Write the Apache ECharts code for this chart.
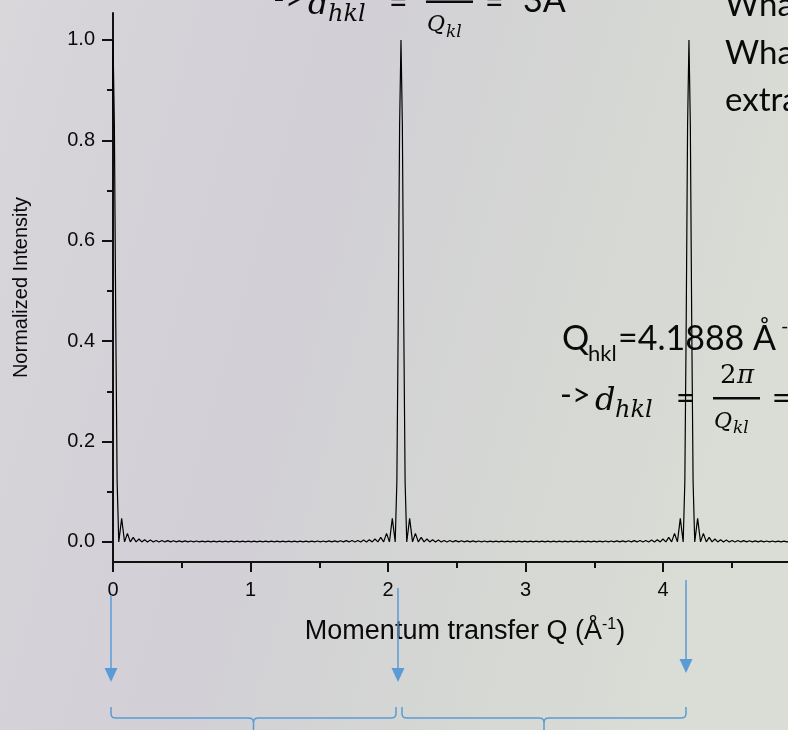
<!DOCTYPE html>
<html>
<head>
<meta charset="utf-8">
<script src="https://cdn.jsdelivr.net/npm/echarts@6/dist/echarts.min.js"></script>
<style>
  html, body { margin: 0; padding: 0; background: #d4d2d7; }
  #chart { width: 788px; height: 730px; }
</style>
</head>
<body>
<div id="chart"></div>
<script>
// Bragg peak positions, Q in 1/Å
const peakCentres = [0, 2.0944, 4.1888];

// One-sided peak profile: distance from the peak centre (1/Å) and normalized intensity
const profileOffsets = [
  0, 0.010, 0.020, 0.030, 0.042, 0.063, 0.084, 0.105, 0.126, 0.147,
  0.168, 0.189, 0.209, 0.230, 0.251, 0.272, 0.293, 0.314, 0.335, 0.356,
  0.377, 0.398, 0.419, 0.440, 0.461, 0.482, 0.503, 0.524, 0.545, 0.565,
  0.586, 0.607, 0.628, 0.649, 0.670, 0.691, 0.712, 0.733, 0.754, 0.775,
  0.796, 0.817, 0.838, 0.859, 0.880, 0.901, 0.922, 0.942, 0.963, 0.984,
  1.005, 1.026, 1.047
];
const profileValues = [
  1.0, 0.83, 0.44, 0.12, 0, 0.047, 0, 0.017, 0, 0.009,
  0, 0.0058, 0, 0.0045, 0, 0.0036, 0, 0.0030, 0, 0.0027,
  0, 0.0025, 0, 0.0023, 0, 0.0021, 0, 0.0020, 0, 0.0019,
  0, 0.0018, 0, 0.0017, 0, 0.0017, 0, 0.0016, 0, 0.0016,
  0, 0.0015, 0, 0.0015, 0, 0.0015, 0, 0.0015, 0, 0.0015,
  0, 0.0015, 0
];

// Axis ticks
const xMajorTicks = [0, 1, 2, 3, 4, 5];
const xMinorTicks = [0.5, 1.5, 2.5, 3.5, 4.5];
const yMajorTicks = [0, 0.2, 0.4, 0.6, 0.8, 1.0];
const yMinorTicks = [0.1, 0.3, 0.5, 0.7, 0.9];

// Assemble the diffraction curve: each peak profile mirrored about its centre
const curve = [];
peakCentres.forEach(function (c) {
  for (let k = profileOffsets.length - 1; k > 0; k--) {
    curve.push([c - profileOffsets[k], profileValues[k]]);
  }
  for (let k = 0; k < profileOffsets.length; k++) {
    curve.push([c + profileOffsets[k], profileValues[k]]);
  }
});

const AXIS_FONT = '"Liberation Sans", Arial, sans-serif';
const SLIDE_FONT = 'Lato, "Open Sans", sans-serif';
const MATH_FONT = '"DejaVu Serif", serif';
const BLUE = '#5b9bd5';
const INK = '#0a0a0a';

function txt(x, y, text, font, extra) {
  return Object.assign({
    type: 'text', x: x, y: y, z: 1,
    style: { text: text, font: font, fill: INK, align: 'left', verticalAlign: 'middle' }
  }, extra || {});
}

// d = 2π / Q relation, laid out around its fraction bar (ox = left, by = bar height)
function dRelation(ox, by, tail) {
  const els = [
    txt(ox, by - 2, '->', '32px ' + SLIDE_FONT),
    txt(ox + 35, by + 4, 'd', 'italic 32px ' + MATH_FONT),
    txt(ox + 55, by + 13, 'hkl', 'italic 24px ' + MATH_FONT),
    txt(ox + 116, by + 1, '=', '32px ' + SLIDE_FONT),
    { type: 'rect', z: 1, shape: { x: ox + 153, y: by - 1, width: 47, height: 2.5 }, style: { fill: INK } },
    txt(ox + 160, by - 22, '2', '26px ' + MATH_FONT),
    txt(ox + 177, by - 22, 'π', 'italic 26px ' + MATH_FONT),
    txt(ox + 154, by + 24, 'Q', 'italic 22px ' + MATH_FONT),
    txt(ox + 173, by + 31, 'kl', 'italic 17px ' + MATH_FONT),
    txt(ox + 212, by + 1, '=', '32px ' + SLIDE_FONT)
  ];
  if (tail) els.push(txt(ox + 250, by, tail, '34px ' + SLIDE_FONT));
  return els;
}

function arrow(x, y1, y2) {
  return [
    { type: 'line', z: 1, shape: { x1: x, y1: y1, x2: x, y2: y2 - 12 }, style: { stroke: BLUE, lineWidth: 1.5 } },
    { type: 'polygon', z: 1, shape: { points: [[x - 6.5, y2 - 14], [x + 6.5, y2 - 14], [x, y2]] }, style: { fill: BLUE } }
  ];
}

function brace(xl, xr, yTop, yBar, yBottom) {
  const xm = (xl + xr) / 2;
  return {
    type: 'polyline', z: 1,
    shape: {
      points: [
        [xl, yTop], [xl, yBar - 4], [xl + 0.6, yBar - 1.8], [xl + 2, yBar - 0.4], [xl + 5, yBar],
        [xm - 5, yBar], [xm - 2, yBar + 0.5], [xm - 0.5, yBar + 2], [xm, yBar + 5], [xm, yBottom],
        [xm, yBar + 5], [xm + 0.5, yBar + 2], [xm + 2, yBar + 0.5], [xm + 5, yBar],
        [xr - 5, yBar], [xr - 2, yBar - 0.4], [xr - 0.6, yBar - 1.8], [xr, yBar - 4], [xr, yTop]
      ]
    },
    style: { stroke: BLUE, lineWidth: 1.5, fill: null }
  };
}

const graphics = [].concat(
  dRelation(273, 1.5, '3Å'),
  dRelation(560, 398, null),
  [
    txt(562, 339, 'Q', '34px ' + SLIDE_FONT),
    txt(588, 354, 'hkl', '22px ' + SLIDE_FONT),
    txt(618, 339, '=4.1888 Å', '34px ' + SLIDE_FONT),
    txt(781, 327, '-1', '20px ' + SLIDE_FONT),
    txt(725, 5, 'Wha', '33px ' + SLIDE_FONT),
    txt(725, 53, 'Wha', '33px ' + SLIDE_FONT),
    txt(725, 100, 'extra', '33px ' + SLIDE_FONT)
  ],
  arrow(111, 595, 682),
  arrow(398, 588, 682),
  arrow(686, 580, 673),
  [brace(111, 396, 707, 718, 731), brace(402, 686, 707, 718, 731)]
);

const chart = echarts.init(document.getElementById('chart'), null, { renderer: 'canvas' });

const axisLineStyle = { color: '#111', width: 2 };

chart.setOption({
  animation: false,
  backgroundColor: {
    type: 'linear', x: 0, y: 0, x2: 1, y2: 0.3,
    colorStops: [
      { offset: 0, color: '#dad7db' },
      { offset: 0.12, color: '#d6d3d9' },
      { offset: 0.45, color: '#d2d0d6' },
      { offset: 0.8, color: '#d5d8d3' },
      { offset: 1, color: '#dadcd6' }
    ]
  },
  grid: { left: 113, top: 13, width: 704, height: 549, outerBoundsMode: 'none', containLabel: false },
  xAxis: [
    {
      type: 'value', min: 0, max: 5.12, position: 'bottom',
      name: '{t|Momentum transfer Q (Å}{s|-1}{t|)}',
      nameLocation: 'middle', nameGap: 55,
      nameTextStyle: {
        rich: {
          t: { fontFamily: AXIS_FONT, fontSize: 27, color: INK, lineHeight: 30 },
          s: { fontFamily: AXIS_FONT, fontSize: 16, color: INK, verticalAlign: 'top', lineHeight: 30 }
        }
      },
      splitLine: { show: false },
      axisLine: { show: true, onZero: false, lineStyle: axisLineStyle },
      axisTick: { show: true, customValues: xMajorTicks, length: 10, lineStyle: { color: '#111', width: 2 } },
      axisLabel: {
        show: true, customValues: xMajorTicks, margin: 18,
        fontFamily: AXIS_FONT, fontSize: 20, color: INK
      }
    },
    {
      type: 'value', min: 0, max: 5.12, position: 'bottom',
      splitLine: { show: false },
      axisLine: { show: false, onZero: false },
      axisTick: { show: true, customValues: xMinorTicks, length: 6, lineStyle: { color: '#111', width: 2 } },
      axisLabel: { show: false }
    }
  ],
  yAxis: [
    {
      type: 'value', min: -0.04, max: 1.0536, position: 'left',
      name: 'Normalized Intensity', nameLocation: 'middle', nameGap: 82,
      nameTextStyle: { fontFamily: AXIS_FONT, fontSize: 20, color: INK },
      splitLine: { show: false },
      axisLine: { show: true, onZero: false, lineStyle: axisLineStyle },
      axisTick: { show: true, customValues: yMajorTicks, length: 11, lineStyle: { color: '#111', width: 2 } },
      axisLabel: {
        show: true, customValues: yMajorTicks, margin: 18,
        fontFamily: AXIS_FONT, fontSize: 20, color: INK,
        formatter: function (v) { return v.toFixed(1); }
      }
    },
    {
      type: 'value', min: -0.04, max: 1.0536, position: 'left',
      splitLine: { show: false },
      axisLine: { show: false, onZero: false },
      axisTick: { show: true, customValues: yMinorTicks, length: 6, lineStyle: { color: '#111', width: 2 } },
      axisLabel: { show: false }
    }
  ],
  series: [{
    type: 'line',
    data: curve,
    xAxisIndex: 0, yAxisIndex: 0,
    showSymbol: false, symbol: 'none',
    clip: true, silent: true, z: 3,
    lineStyle: { color: '#000', width: 1.2 }
  }],
  graphic: graphics
});
</script>
</body>
</html>
